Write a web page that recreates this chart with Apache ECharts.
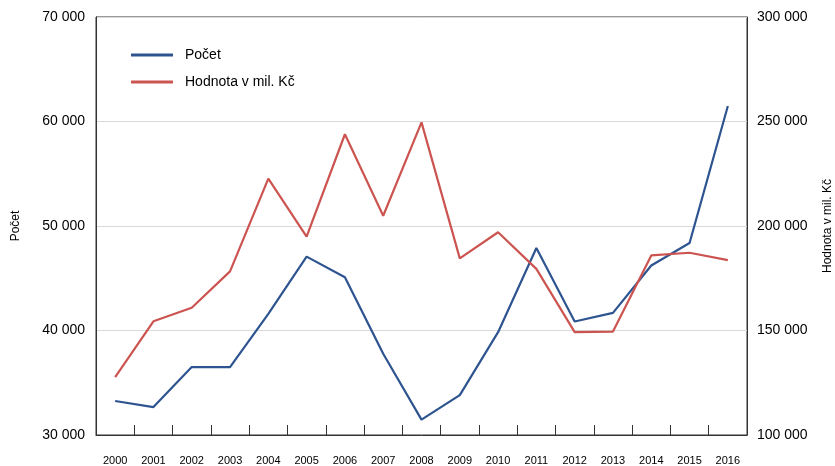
<!DOCTYPE html>
<html>
<head>
<meta charset="utf-8">
<script src="https://cdn.jsdelivr.net/npm/echarts@6/dist/echarts.min.js"></script>
<style>
	html, body { margin: 0; padding: 0; background: #fff; }
	#chart { width: 835px; height: 466px; }
</style>
</head>
<body>
<div id="chart"></div>
<script>
// roky
var years = ['2000', '2001', '2002', '2003', '2004', '2005', '2006', '2007', '2008',
	'2009', '2010', '2011', '2012', '2013', '2014', '2015', '2016'];
// Počet (levá osa)
var pocet = [33250, 32670, 36500, 36500, 41600, 47070, 45090, 37770, 31470,
	33820, 39840, 47900, 40860, 41690, 46220, 48380, 61490];
// Hodnota v mil. Kč (pravá osa)
var hodnota = [127700, 154400, 160900, 178300, 222700, 194900, 243900, 204900, 249600,
	184500, 197000, 179500, 149200, 149500, 185900, 187200, 183700];

var fmt = function(v) {
	return String(v).replace(/\B(?=(\d{3})+(?!\d))/g, ' ');
};

var myChart = echarts.init(document.getElementById('chart'));
myChart.setOption({
	animation: false,
	textStyle: { fontFamily: 'Liberation Sans, Arial, sans-serif', color: '#000' },
	grid: {
		left: 96, right: 88, top: 17, bottom: 31,
		outerBoundsMode: 'none',
		containLabel: false,
		show: true, borderColor: '#333', borderWidth: 1
	},
	legend: {
		orient: 'vertical',
		left: 131, top: 47, padding: 0,
		itemWidth: 42, itemHeight: 3, itemGap: 11,
		icon: 'rect',
		textStyle: { fontSize: 14, lineHeight: 16, color: '#000', padding: [0, 0, 0, 7] },
		data: ['Počet', 'Hodnota v mil. Kč']
	},
	xAxis: {
		type: 'category',
		data: years,
		boundaryGap: true,
		axisLine: { lineStyle: { color: '#333', width: 1 } },
		axisTick: { show: true, inside: true, length: 10, interval: 0, lineStyle: { color: '#333', width: 1 } },
		axisLabel: { interval: 0, margin: 20, fontSize: 11, color: '#000' }
	},
	yAxis: [{
		type: 'value',
		min: 30000, max: 70000, interval: 10000,
		name: 'Počet',
		nameLocation: 'middle', nameRotate: 90, nameGap: 74,
		nameTextStyle: { fontSize: 12, color: '#000' },
		axisLine: { show: true, lineStyle: { color: '#333' } },
		axisTick: { show: false },
		axisLabel: { margin: 11, fontSize: 14, color: '#000', formatter: fmt },
		splitLine: { lineStyle: { color: '#d9d9d9', width: 1 } }
	}, {
		type: 'value',
		min: 100000, max: 300000, interval: 50000,
		name: 'Hodnota v mil. Kč',
		nameLocation: 'middle', nameRotate: 90, nameGap: 75,
		nameTextStyle: { fontSize: 12, color: '#000' },
		axisLine: { show: true, lineStyle: { color: '#333' } },
		axisTick: { show: false },
		axisLabel: { margin: 10, fontSize: 14, color: '#000', formatter: fmt },
		splitLine: { show: false }
	}],
	series: [{
		name: 'Počet',
		type: 'line',
		yAxisIndex: 0,
		data: pocet,
		symbol: 'none',
		color: '#2e5490',
		lineStyle: { width: 2.2, color: '#2e5490' }
	}, {
		name: 'Hodnota v mil. Kč',
		type: 'line',
		yAxisIndex: 1,
		data: hodnota,
		symbol: 'none',
		color: '#cc5450',
		lineStyle: { width: 2.2, color: '#cc5450' }
	}]
});
</script>
</body>
</html>
